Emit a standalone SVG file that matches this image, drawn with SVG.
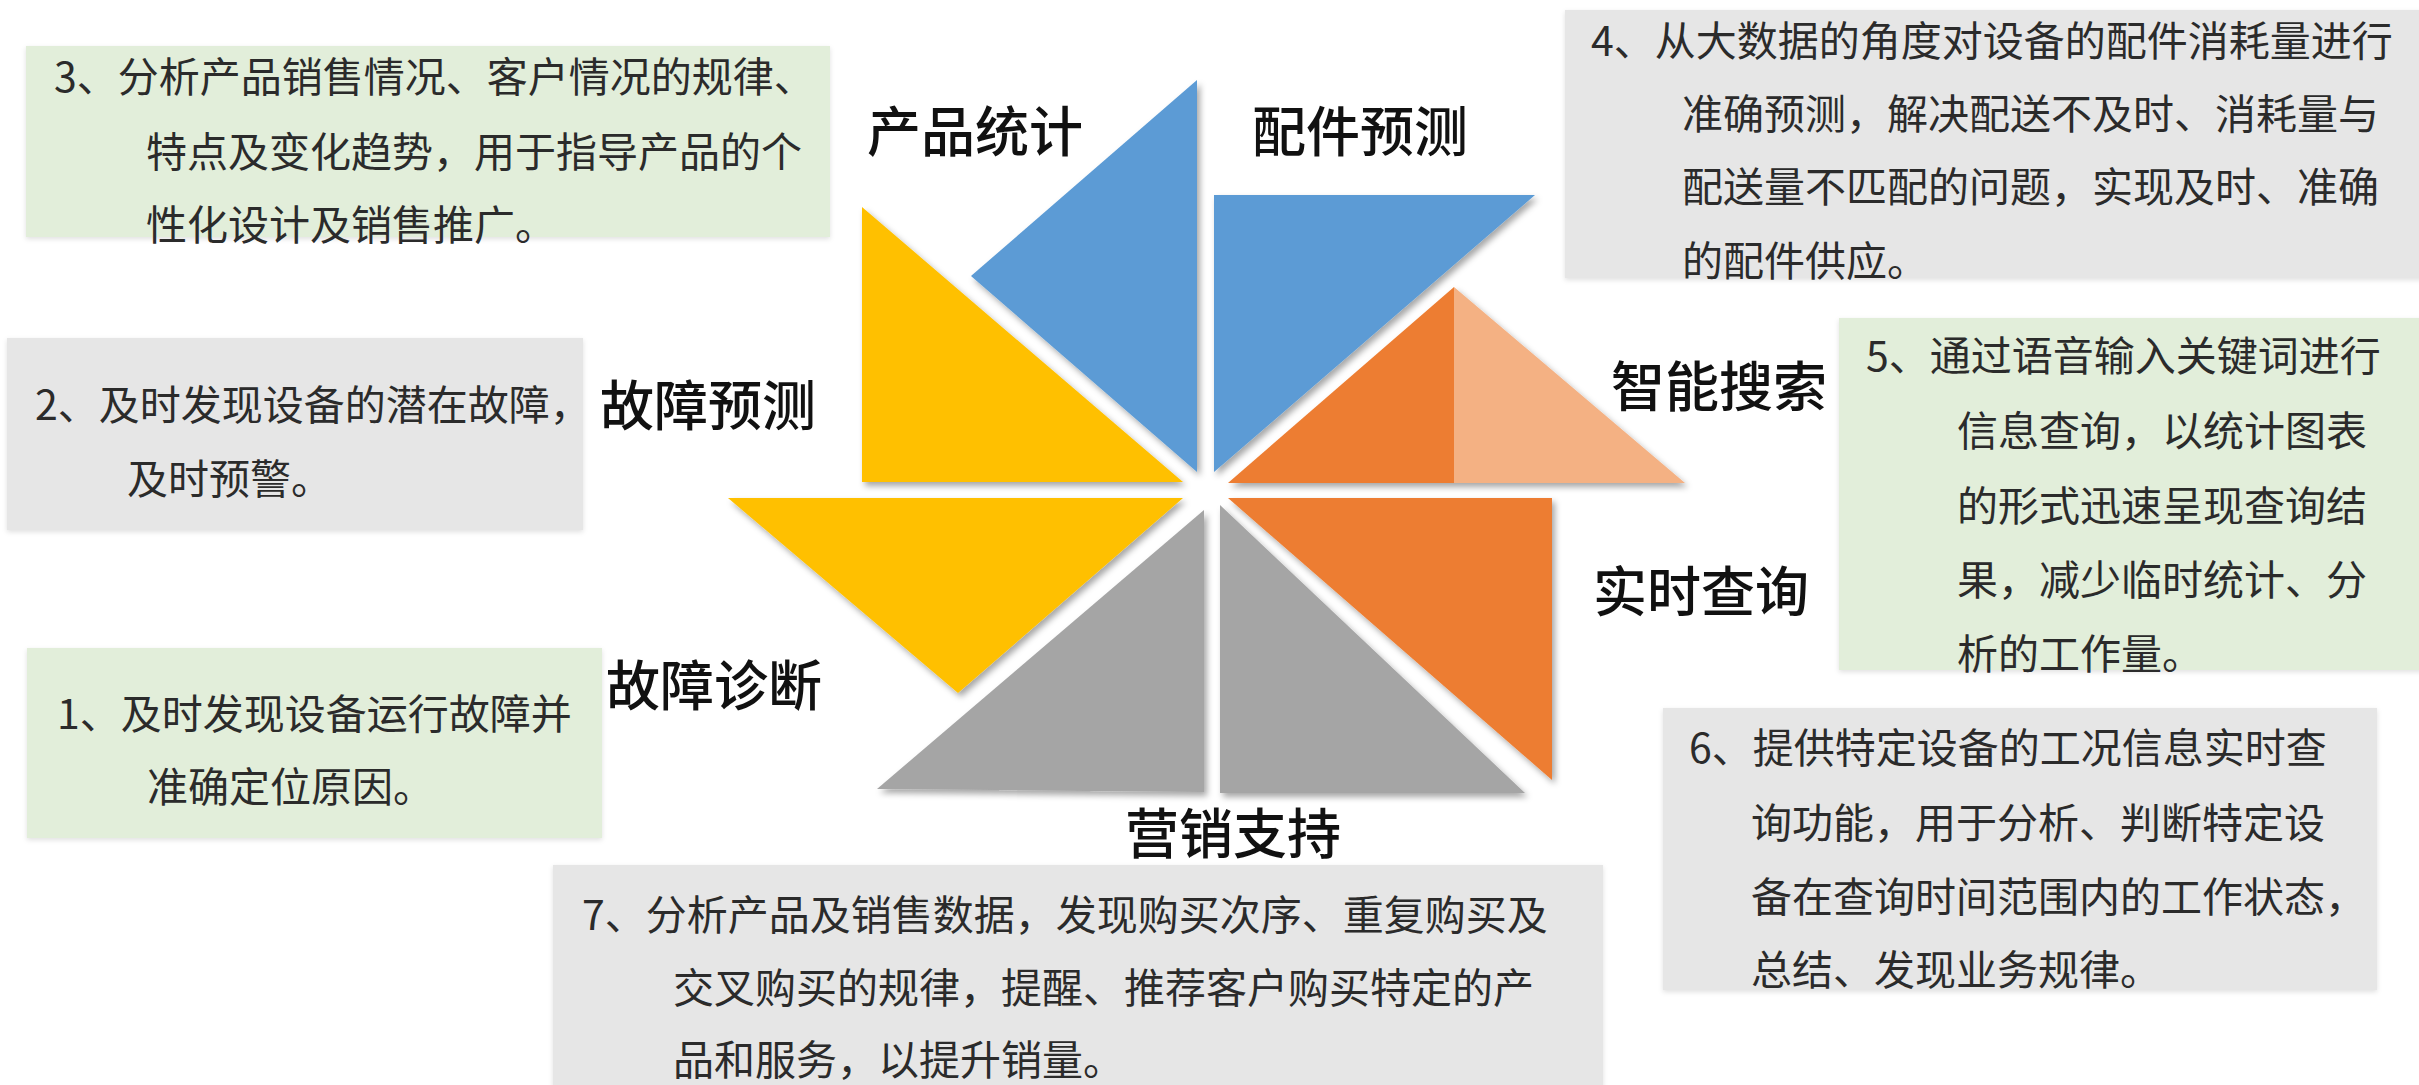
<svg xmlns="http://www.w3.org/2000/svg" width="2419" height="1085" viewBox="0 0 2419 1085">
  <defs>
    <filter id="sh" x="-10%" y="-10%" width="130%" height="130%">
      <feDropShadow dx="3" dy="4" stdDeviation="3" flood-color="#000" flood-opacity="0.35"/>
    </filter>
    <filter id="bsh" x="-5%" y="-5%" width="110%" height="115%">
      <feDropShadow dx="0" dy="2" stdDeviation="2.5" flood-color="#000" flood-opacity="0.12"/>
    </filter>
  </defs>
  <style>
    .body { font-family: "Noto Sans CJK SC", "Noto Sans", sans-serif; font-size: 41px; fill: #2b2b2b; dominant-baseline: central; }
    .lbl { font-family: "Noto Sans CJK SC", "Noto Sans", sans-serif; font-size: 54px; font-weight: 500; fill: #111; dominant-baseline: central; }
    .green { fill: #E2EEDA; filter: url(#bsh); }
    .gray { fill: #E6E6E6; filter: url(#bsh); }
    .blue { fill: #5B9BD5; }
    .orange { fill: #ED7D31; }
    .peach { fill: #F4B183; }
    .yellow { fill: #FFC000; }
    .grey { fill: #A5A5A5; }
  </style>
  <rect width="2419" height="1085" fill="#fff"/>

  <g id="pinwheel" filter="url(#sh)">
    <polygon class="blue" points="1197,80 971,276 1197,472"/>
    <polygon class="blue" points="1214,195 1535,195 1214,472"/>
    <polygon class="orange" points="1228,483 1454,287 1454,483"/>
    <polygon class="peach" points="1454,287 1685,483 1454,483"/>
    <polygon class="orange" points="1228,498 1552,498 1552,780"/>
    <polygon class="grey" points="1220,505 1220,793 1525,793"/>
    <polygon class="grey" points="1204,510 1204,792 877,789"/>
    <polygon class="yellow" points="728,498 1183,498 958,693"/>
    <polygon class="yellow" points="862,207 862,482 1183,482"/>
  </g>

  <g id="labels">
    <text class="lbl" x="867" y="128">产品统计</text>
    <text class="lbl" x="1252" y="128">配件预测</text>
    <text class="lbl" x="1611" y="383">智能搜索</text>
    <text class="lbl" x="600" y="402">故障预测</text>
    <text class="lbl" x="1593" y="588">实时查询</text>
    <text class="lbl" x="606" y="682">故障诊断</text>
    <text class="lbl" x="1125" y="830">营销支持</text>
  </g>

  <g id="box3">
    <rect class="green" x="26" y="46" width="804" height="191"/>
    <text class="body" x="54" y="74">3、分析产品销售情况、客户情况的规律、</text>
    <text class="body" x="146" y="149">特点及变化趋势，用于指导产品的个</text>
    <text class="body" x="146" y="222">性化设计及销售推广。</text>
  </g>

  <g id="box4">
    <rect class="gray" x="1565" y="10" width="860" height="268"/>
    <text class="body" x="1591" y="38">4、从大数据的角度对设备的配件消耗量进行</text>
    <text class="body" x="1682" y="111">准确预测，解决配送不及时、消耗量与</text>
    <text class="body" x="1682" y="184">配送量不匹配的问题，实现及时、准确</text>
    <text class="body" x="1682" y="258">的配件供应。</text>
  </g>

  <g id="box2">
    <rect class="gray" x="7" y="338" width="576" height="192"/>
    <text class="body" x="35" y="402">2、及时发现设备的潜在故障，</text>
    <text class="body" x="127" y="476">及时预警。</text>
  </g>

  <g id="box1">
    <rect class="green" x="27" y="648" width="575" height="190"/>
    <text class="body" x="57" y="711">1、及时发现设备运行故障并</text>
    <text class="body" x="147" y="784">准确定位原因。</text>
  </g>

  <g id="box5">
    <rect class="green" x="1839" y="318" width="586" height="352"/>
    <text class="body" x="1866" y="353">5、通过语音输入关键词进行</text>
    <text class="body" x="1957" y="428">信息查询，以统计图表</text>
    <text class="body" x="1957" y="503">的形式迅速呈现查询结</text>
    <text class="body" x="1957" y="577">果，减少临时统计、分</text>
    <text class="body" x="1957" y="651">析的工作量。</text>
  </g>

  <g id="box6">
    <rect class="gray" x="1663" y="708" width="714" height="282"/>
    <text class="body" x="1689" y="745">6、提供特定设备的工况信息实时查</text>
    <text class="body" x="1751" y="820">询功能，用于分析、判断特定设</text>
    <text class="body" x="1751" y="894">备在查询时间范围内的工作状态，</text>
    <text class="body" x="1751" y="967">总结、发现业务规律。</text>
  </g>

  <g id="box7">
    <rect class="gray" x="553" y="865" width="1050" height="225"/>
    <text class="body" x="582" y="912">7、分析产品及销售数据，发现购买次序、重复购买及</text>
    <text class="body" x="673" y="985">交叉购买的规律，提醒、推荐客户购买特定的产</text>
    <text class="body" x="673" y="1057">品和服务，以提升销量。</text>
  </g>

  <g id="connectors"/>
</svg>
